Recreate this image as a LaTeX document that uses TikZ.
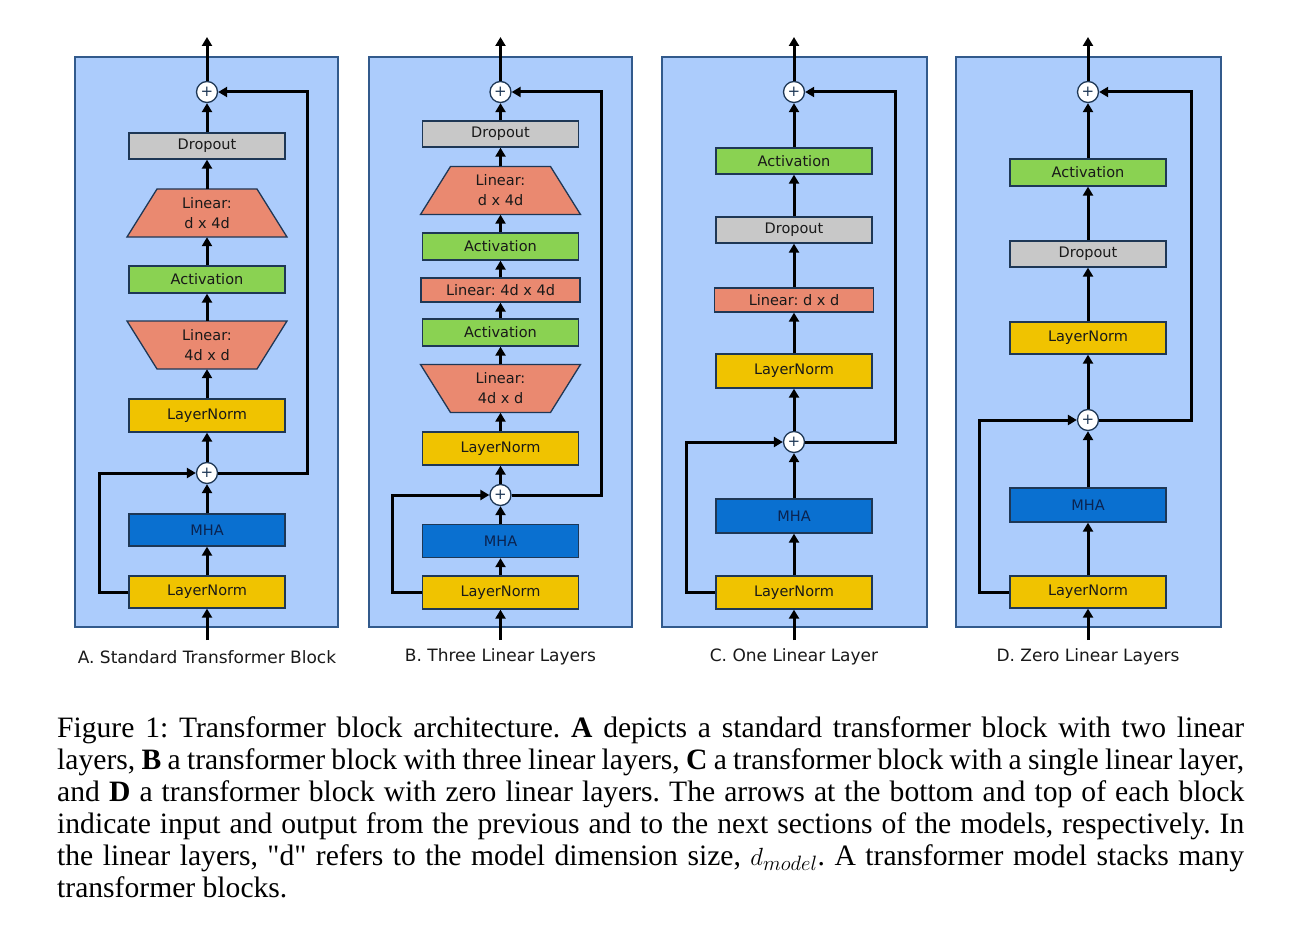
\documentclass[tikz,border=0pt]{standalone}
\usepackage{fontspec}
\setmainfont{Liberation Serif}
\newfontfamily\dv{DejaVu Sans}
\usetikzlibrary{arrows.meta}
\definecolor{panelfill}{RGB}{172,204,252}
\definecolor{panelbdr}{RGB}{50,90,140}
\definecolor{bdr}{RGB}{30,55,85}
\definecolor{grayc}{RGB}{200,200,200}
\definecolor{salmon}{RGB}{234,137,112}
\definecolor{greenc}{RGB}{138,210,82}
\definecolor{yellowc}{RGB}{240,195,0}
\definecolor{bluec}{RGB}{10,112,208}
\definecolor{txt}{RGB}{25,25,25}
\newcommand\mytrapN[2]{\draw[trapshape] ({#1-50},{#2-24}) -- ({#1+50},{#2-24}) -- ({#1+80},{#2+24}) -- ({#1-80},{#2+24}) -- cycle;}
\newcommand\mytrapW[2]{\draw[trapshape] ({#1-80},{#2-24}) -- ({#1+80},{#2-24}) -- ({#1+50},{#2+24}) -- ({#1-50},{#2+24}) -- cycle;}
\frenchspacing
\begin{document}
\begin{tikzpicture}[x=1pt,y=-1pt,
  panel/.style={draw=panelbdr, line width=1.3pt, fill=panelfill},
  box/.style={draw=bdr, line width=1.3pt, minimum width=156pt, inner sep=0pt, text=txt, font=\dv\fontsize{14.5}{20}\selectfont},
  lnbox/.style={box, fill=yellowc},
  mhabox/.style={box, fill=bluec, text={rgb,255:red,10;green,35;blue,80}},
  dropbox/.style={box, fill=grayc},
  actbox/.style={box, fill=greenc},
  linbox/.style={box, fill=salmon, minimum width=159pt},
  trapshape/.style={draw=bdr, line width=1.3pt, fill=salmon},
  trapt/.style={draw=none, minimum width=160pt, minimum height=48pt, inner sep=0pt, align=center, text=txt, font=\dv\fontsize{14.5}{20}\selectfont},
  plusc/.style={circle, draw=bdr, line width=1.3pt, fill=white, minimum size=21pt, inner sep=0pt, text=bdr, font=\dv\fontsize{15}{15}\selectfont},
  arr/.style={line width=3pt, -{Triangle[length=9pt,width=10pt]}},
  skip/.style={line width=3pt, -{Triangle[length=9pt,width=10pt]}},
  lbl/.style={inner sep=0pt, text=txt, font=\dv\fontsize{17}{20}\selectfont},
  captxt/.style={anchor=base west, inner sep=0pt, font=\fontsize{29.6}{32}\selectfont}
]
\useasboundingbox[fill=white] (0,0) rectangle (1299,939);

% ---------- Panel A ----------
\draw[panel] (75,57) rectangle (338,627);
\node[plusc] (Ap2) at (207,92) {+};
\node[dropbox, minimum height=26pt] (Adr) at (207,146) {Dropout};
\mytrapN{207}{213}
\node[trapt] (AL1) at (207,213) {Linear:\\d x 4d};
\node[actbox, minimum height=27pt] (Aac) at (207,279.5) {Activation};
\mytrapW{207}{345}
\node[trapt] (AL2) at (207,345) {Linear:\\4d x d};
\node[lnbox, minimum height=33pt] (Aln2) at (207,415.5) {LayerNorm};
\node[plusc] (Ap1) at (207,473) {+};
\node[mhabox, minimum height=32pt] (Amha) at (207,530) {MHA};
\node[lnbox, minimum height=32pt] (Aln1) at (207,592) {LayerNorm};
\coordinate (Ain) at (207,640);
\coordinate (Aout) at (207,37);
\coordinate (Al) at (99,592);
\coordinate (Ar) at (307,92);
\draw[arr] (Ain) -- (Aln1);
\draw[arr] (Aln1) -- (Amha);
\draw[arr] (Amha) -- (Ap1);
\draw[arr] (Ap1) -- (Aln2);
\draw[arr] (Aln2) -- (AL2);
\draw[arr] (AL2) -- (Aac);
\draw[arr] (Aac) -- (AL1);
\draw[arr] (AL1) -- (Adr);
\draw[arr] (Adr) -- (Ap2);
\draw[arr] (Ap2) -- (Aout);
\draw[skip] (Aln1.west) -- (Al) |- (Ap1.west);
\draw[skip] (Ap1.east) -| (Ar) -- (Ap2.east);
\node[lbl] (Alab) at (207,657) {A. Standard Transformer Block};

% ---------- Panel B ----------
\draw[panel] (369,57) rectangle (632,627);
\node[plusc] (Bp2) at (500.5,92) {+};
\node[dropbox, minimum height=26pt] (Bdr) at (500.5,134) {Dropout};
\mytrapN{500.5}{190.5}
\node[trapt] (BL1) at (500.5,190.5) {Linear:\\d x 4d};
\node[actbox, minimum height=27pt] (Bac2) at (500.5,246.5) {Activation};
\node[linbox, minimum height=24pt] (BL2) at (500.5,290) {Linear: 4d x 4d};
\node[actbox, minimum height=27pt] (Bac1) at (500.5,332.5) {Activation};
\mytrapW{500.5}{388.5}
\node[trapt] (BL3) at (500.5,388.5) {Linear:\\4d x d};
\node[lnbox, minimum height=33pt] (Bln2) at (500.5,448.5) {LayerNorm};
\node[plusc] (Bp1) at (500.5,495) {+};
\node[mhabox, minimum height=33pt] (Bmha) at (500.5,541) {MHA};
\node[lnbox, minimum height=33pt] (Bln1) at (500.5,592.5) {LayerNorm};
\coordinate (Bin) at (500.5,640);
\coordinate (Bout) at (500.5,37);
\coordinate (Bl) at (392,592.5);
\coordinate (Br) at (601,92);
\draw[arr] (Bin) -- (Bln1);
\draw[arr] (Bln1) -- (Bmha);
\draw[arr] (Bmha) -- (Bp1);
\draw[arr] (Bp1) -- (Bln2);
\draw[arr] (Bln2) -- (BL3);
\draw[arr] (BL3) -- (Bac1);
\draw[arr] (Bac1) -- (BL2);
\draw[arr] (BL2) -- (Bac2);
\draw[arr] (Bac2) -- (BL1);
\draw[arr] (BL1) -- (Bdr);
\draw[arr] (Bdr) -- (Bp2);
\draw[arr] (Bp2) -- (Bout);
\draw[skip] (Bln1.west) -- (Bl) |- (Bp1.west);
\draw[skip] (Bp1.east) -| (Br) -- (Bp2.east);
\node[lbl] (Blab) at (500.5,657) {B. Three Linear Layers};

% ---------- Panel C ----------
\draw[panel] (662,57) rectangle (927,627);
\node[plusc] (Cp2) at (794,92) {+};
\node[actbox, minimum height=26pt] (Cac) at (794,161) {Activation};
\node[dropbox, minimum height=26pt] (Cdr) at (794,230) {Dropout};
\node[linbox, minimum height=24pt] (CL) at (794,300) {Linear: d x d};
\node[lnbox, minimum height=34pt] (Cln2) at (794,371) {LayerNorm};
\node[plusc] (Cp1) at (794,442) {+};
\node[mhabox, minimum height=34pt] (Cmha) at (794,516) {MHA};
\node[lnbox, minimum height=33pt] (Cln1) at (794,592.5) {LayerNorm};
\coordinate (Cin) at (794,640);
\coordinate (Cout) at (794,37);
\coordinate (Cl) at (686,592.5);
\coordinate (Cr) at (895,92);
\draw[arr] (Cin) -- (Cln1);
\draw[arr] (Cln1) -- (Cmha);
\draw[arr] (Cmha) -- (Cp1);
\draw[arr] (Cp1) -- (Cln2);
\draw[arr] (Cln2) -- (CL);
\draw[arr] (CL) -- (Cdr);
\draw[arr] (Cdr) -- (Cac);
\draw[arr] (Cac) -- (Cp2);
\draw[arr] (Cp2) -- (Cout);
\draw[skip] (Cln1.west) -- (Cl) |- (Cp1.west);
\draw[skip] (Cp1.east) -| (Cr) -- (Cp2.east);
\node[lbl] (Clab) at (794,657) {C. One Linear Layer};

% ---------- Panel D ----------
\draw[panel] (956,57) rectangle (1221,627);
\node[plusc] (Dp2) at (1088,92) {+};
\node[actbox, minimum height=27pt] (Dac) at (1088,172.5) {Activation};
\node[dropbox, minimum height=26pt] (Ddr) at (1088,254) {Dropout};
\node[lnbox, minimum height=32pt] (Dln2) at (1088,338) {LayerNorm};
\node[plusc] (Dp1) at (1088,420) {+};
\node[mhabox, minimum height=34pt] (Dmha) at (1088,505) {MHA};
\node[lnbox, minimum height=32pt] (Dln1) at (1088,592) {LayerNorm};
\coordinate (Din) at (1088,640);
\coordinate (Dout) at (1088,37);
\coordinate (Dl) at (979,592);
\coordinate (Dr) at (1191,92);
\draw[arr] (Din) -- (Dln1);
\draw[arr] (Dln1) -- (Dmha);
\draw[arr] (Dmha) -- (Dp1);
\draw[arr] (Dp1) -- (Dln2);
\draw[arr] (Dln2) -- (Ddr);
\draw[arr] (Ddr) -- (Dac);
\draw[arr] (Dac) -- (Dp2);
\draw[arr] (Dp2) -- (Dout);
\draw[skip] (Dln1.west) -- (Dl) |- (Dp1.west);
\draw[skip] (Dp1.east) -| (Dr) -- (Dp2.east);
\node[lbl] (Dlab) at (1088,657) {D. Zero Linear Layers};

% ---------- Caption ----------
\node[captxt] (c1) at (57,737) {\makebox[1187pt][s]{Figure 1: Transformer block architecture. \textbf{A} depicts a standard transformer block with two linear}};
\node[captxt] (c2) at (57,769) {\makebox[1187pt][s]{layers, \textbf{B} a transformer block with three linear layers, \textbf{C} a transformer block with a single linear layer,}};
\node[captxt] (c3) at (57,801) {\makebox[1187pt][s]{and \textbf{D} a transformer block with zero linear layers. The arrows at the bottom and top of each block}};
\node[captxt] (c4) at (57,833) {\makebox[1187pt][s]{indicate input and output from the previous and to the next sections of the models, respectively. In}};
\node[captxt] (c5) at (57,865) {\makebox[1187pt][s]{the linear layers, \textquotedbl d\textquotedbl{} refers to the model dimension size, $d_{model}$. A transformer model stacks many}};
\node[captxt] (c6) at (57,897) {transformer blocks.};
\end{tikzpicture}
\end{document}
